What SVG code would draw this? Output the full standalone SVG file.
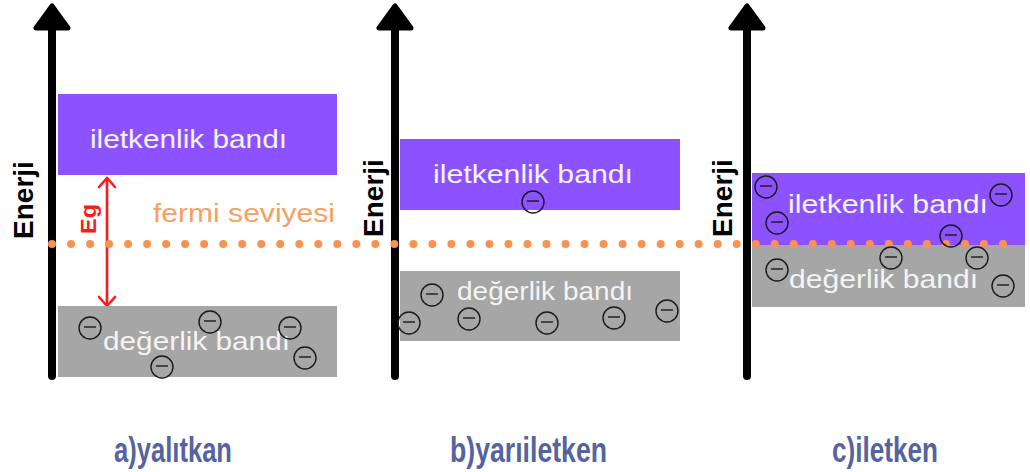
<svg xmlns="http://www.w3.org/2000/svg" width="1030" height="472" viewBox="0 0 1030 472">
<defs>
<style>
.cb{fill:#8c52ff}
.vb{fill:#a6a6a6}
.bt{font-family:"Liberation Sans",Arial,sans-serif;font-size:25px;fill:#f4f4f4}
.ax{stroke:#000;stroke-width:8;stroke-linecap:round;fill:none}
.ah{fill:#000;stroke:#000;stroke-width:5;stroke-linejoin:round}
.en{font-family:"Liberation Sans",Arial,sans-serif;font-size:28px;font-weight:bold;fill:#000}
.lb{font-family:"Liberation Sans",Arial,sans-serif;font-size:35px;font-weight:bold;fill:#56639e}
</style>
<g id="e" fill="none" stroke="#1a1a1a" stroke-width="1.4"><circle cx="0" cy="0" r="11"/><line x1="-6" y1="-1" x2="6" y2="-1"/></g>
</defs>
<rect width="1030" height="472" fill="#fff"/>

<g id="connectors">
<line class="ax" x1="52" y1="26" x2="52" y2="376"/>
<polygon class="ah" points="52,6 36,28 68,28"/>
<line class="ax" x1="395" y1="26" x2="395" y2="376"/>
<polygon class="ah" points="395,6 379,28 411,28"/>
<line class="ax" x1="747" y1="26" x2="747" y2="376"/>
<polygon class="ah" points="747,6 731,28 763,28"/>
<g id="eg-arrow" stroke="#ff1a1a" stroke-width="2.6" fill="none" stroke-linecap="round" stroke-linejoin="round">
<line x1="107" y1="178" x2="107" y2="306"/>
<polyline points="99,187 107,178 115,187"/>
<polyline points="99,297 107,306 115,297"/>
</g>
</g>

<g id="panel-a">
<rect class="cb" x="58" y="94" width="279" height="81"/>
<text class="bt" x="90" y="148" textLength="197" lengthAdjust="spacingAndGlyphs">iletkenlik bandı</text>
<rect class="vb" x="58" y="306" width="279" height="71"/>
<text class="bt" x="103" y="350" font-size="26" textLength="187" lengthAdjust="spacingAndGlyphs">değerlik bandı</text>
<text x="153" y="222" font-family="Liberation Sans, Arial, sans-serif" font-size="25" fill="#f7a060" textLength="182" lengthAdjust="spacingAndGlyphs">fermi seviyesi</text>
<text class="en" transform="translate(33,200) rotate(-90)" text-anchor="middle">Enerji</text>
<text transform="translate(96,219) rotate(-90)" text-anchor="middle" font-family="Liberation Sans, Arial, sans-serif" font-size="22" font-weight="bold" fill="#ff1a1a" textLength="30" lengthAdjust="spacingAndGlyphs">Eg</text>
<text class="lb" x="114" y="462" textLength="118" lengthAdjust="spacingAndGlyphs">a)yalıtkan</text>
</g>

<g id="panel-b">
<rect class="cb" x="400" y="139" width="280" height="71"/>
<text class="bt" x="433" y="183" textLength="200" lengthAdjust="spacingAndGlyphs">iletkenlik bandı</text>
<rect class="vb" x="400" y="271" width="280" height="70"/>
<text class="bt" x="457" y="300" textLength="176" lengthAdjust="spacingAndGlyphs">değerlik bandı</text>
<text class="en" transform="translate(383,198) rotate(-90)" text-anchor="middle">Enerji</text>
<text class="lb" x="450" y="462" textLength="157" lengthAdjust="spacingAndGlyphs">b)yarıiletken</text>
</g>

<g id="panel-c">
<rect class="cb" x="752" y="173" width="273" height="72"/>
<rect class="vb" x="752" y="245" width="273" height="62"/>
<text class="bt" x="788" y="213" textLength="200" lengthAdjust="spacingAndGlyphs">iletkenlik bandı</text>
<text class="bt" x="789" y="288" textLength="189" lengthAdjust="spacingAndGlyphs">değerlik bandı</text>
<text class="en" transform="translate(732,198) rotate(-90)" text-anchor="middle">Enerji</text>
<text class="lb" x="832" y="462" textLength="106" lengthAdjust="spacingAndGlyphs">c)iletken</text>
</g>

<g id="fermi-level">
<line x1="52" y1="244" x2="1022" y2="244" stroke="#f79250" stroke-width="8" stroke-linecap="round" stroke-dasharray="0 19.02"/>
</g>

<g id="electrons">
<use href="#e" x="90" y="328"/>
<use href="#e" x="210" y="322"/>
<use href="#e" x="290" y="328"/>
<use href="#e" x="305" y="358"/>
<use href="#e" x="162" y="367"/>
<use href="#e" x="533" y="202"/>
<use href="#e" x="432" y="295"/>
<use href="#e" x="409" y="323"/>
<use href="#e" x="469" y="319"/>
<use href="#e" x="547" y="323"/>
<use href="#e" x="614" y="318"/>
<use href="#e" x="667" y="311"/>
<use href="#e" x="766" y="187"/>
<use href="#e" x="777" y="223"/>
<use href="#e" x="1001" y="195"/>
<use href="#e" x="951" y="236"/>
<use href="#e" x="891" y="258"/>
<use href="#e" x="977" y="258"/>
<use href="#e" x="777" y="270"/>
<use href="#e" x="1003" y="286"/>
</g>
</svg>
